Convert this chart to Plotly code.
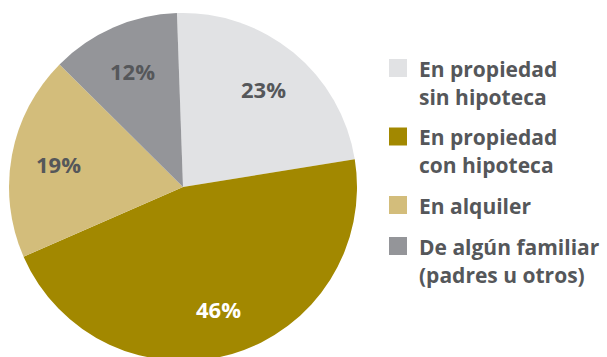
import math
import plotly.graph_objects as go

# Housing tenure shares (%)
categories = [
    "En propiedad<br>sin hipoteca",
    "En propiedad<br>con hipoteca",
    "En alquiler",
    "De algún familiar<br>(padres u otros)",
]
shares = [23, 46, 19, 12]
slice_colors = ["#e1e2e4", "#a28800", "#d3bd7b", "#949599"]
label_colors = ["#55575a", "#ffffff", "#55575a", "#55575a"]

W, H = 607, 362
FONT = "Open Sans"
TEXT_GRAY = "#55575a"

# Pie geometry in pixels
CX, CY, R = 183, 187, 174
START_DEG = -2          # first slice starts just left of 12 o'clock
LABEL_FRAC = 0.73       # labels sit along each slice's bisector


def px_x(x):
    return x / W


def px_y(y):
    return 1 - y / H


fig = go.Figure()
fig.add_trace(
    go.Pie(
        labels=categories,
        values=shares,
        sort=False,
        direction="clockwise",
        rotation=START_DEG,
        marker=dict(colors=slice_colors, line=dict(width=0)),
        textinfo="none",
        domain=dict(x=[px_x(CX - R), px_x(CX + R)], y=[px_y(CY + R), px_y(CY - R)]),
        showlegend=False,
        hoverinfo="label+percent",
    )
)

annotations = []

# Percentage labels placed on the bisector of each slice
total = sum(shares)
cum = 0
for v, c in zip(shares, label_colors):
    mid = math.radians(START_DEG + 360 * (cum + v / 2) / total)
    cum += v
    lx = CX + LABEL_FRAC * R * math.sin(mid)
    ly = CY - LABEL_FRAC * R * math.cos(mid)
    annotations.append(
        dict(
            text=f"{v}%", xref="paper", yref="paper",
            x=px_x(lx), y=px_y(ly), xanchor="center", yanchor="middle",
            showarrow=False,
            font=dict(family=FONT, size=22, color=c, weight=700),
        )
    )

# Legend on the right: colour swatch plus one annotation per text line
shapes = []
SWATCH = 18
LINE_STEP = 27.5
ENTRY_GAP = 41
y_line = 69
for name, color in zip(categories, slice_colors):
    lines = name.split("<br>")
    top = y_line - 10
    shapes.append(
        dict(
            type="rect", xref="paper", yref="paper",
            x0=px_x(389), x1=px_x(389 + SWATCH),
            y0=px_y(top + SWATCH), y1=px_y(top),
            fillcolor=color, line=dict(width=0),
        )
    )
    for i, line in enumerate(lines):
        annotations.append(
            dict(
                text=line, xref="paper", yref="paper",
                x=px_x(417), y=px_y(y_line), xanchor="left", yanchor="middle",
                showarrow=False,
                font=dict(family=FONT, size=21, color=TEXT_GRAY, weight=700),
            )
        )
        if i < len(lines) - 1:
            y_line += LINE_STEP
    y_line += ENTRY_GAP

fig.update_layout(
    width=W,
    height=H,
    margin=dict(l=0, r=0, t=0, b=0),
    paper_bgcolor="#ffffff",
    plot_bgcolor="#ffffff",
    shapes=shapes,
    annotations=annotations,
)

fig.write_html(
    "out.html",
    post_script="document.documentElement.style.overflow='hidden';document.body.style.overflow='hidden';",
)
